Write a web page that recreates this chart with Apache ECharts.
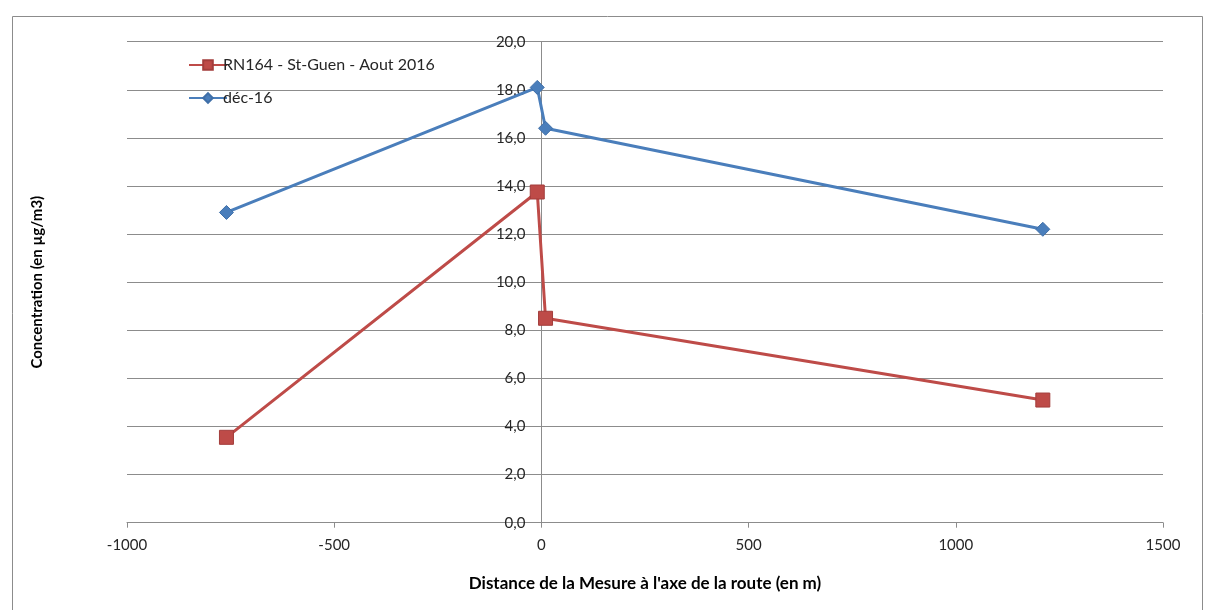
<!DOCTYPE html>
<html>
<head>
<meta charset="utf-8">
<script src="https://cdn.jsdelivr.net/npm/echarts@6/dist/echarts.min.js"></script>
<style>
html,body{margin:0;padding:0;background:#fff;}
#chart{width:1208px;height:610px;}
</style>
</head>
<body>
<div id="chart"></div>
<script>
const distances = [-760, -10, 10, 1210];
const aout2016 = [3.55, 13.75, 8.5, 5.1];
const dec2016 = [12.9, 18.1, 16.4, 12.2];
const seriesNames = ['RN164 - St-Guen - Aout 2016', 'déc-16'];
const xAxisTitle = "Distance de la Mesure à l'axe de la route (en m)";
const yAxisTitle = 'Concentration (en µg/m3)';

const FONT = 'Lato, "Open Sans", sans-serif';
const GRID_LEFT = 127, GRID_RIGHT = 45, W = 1208;
const X_MIN = -1000, X_MAX = 1500;
const plotW = W - GRID_LEFT - GRID_RIGHT;
const zeroOffset = plotW * (0 - X_MIN) / (X_MAX - X_MIN);

const chart = echarts.init(document.getElementById('chart'), null, {renderer: 'canvas'});
const pairs = (xs, ys) => xs.map((x, i) => [x, ys[i]]);

chart.setOption({
  animation: false,
  backgroundColor: '#ffffff',
  textStyle: {fontFamily: FONT},
  graphic: [{
    type: 'rect', left: 10, top: 14, silent: true,
    shape: {width: 1190, height: 620},
    style: {fill: 'none', stroke: '#8c8c8c', lineWidth: 1}
  }],
  grid: {left: GRID_LEFT, right: GRID_RIGHT, top: 41.7, bottom: 87.3, containLabel: false},
  legend: {
    left: 183, top: 52, orient: 'vertical', itemGap: 17,
    itemWidth: 38, itemHeight: 12,
    textStyle: {fontFamily: FONT, fontSize: 16, color: '#262626', padding: [0, 0, 0, -9]},
    data: seriesNames
  },
  xAxis: {
    type: 'value', min: X_MIN, max: X_MAX, interval: 500,
    name: xAxisTitle, nameLocation: 'middle', nameGap: 52,
    nameTextStyle: {fontFamily: FONT, fontSize: 17, fontWeight: 'bold', color: '#000'},
    axisLine: {onZero: false, lineStyle: {color: '#8c8c8c', width: 1}},
    axisTick: {show: true, length: 5, lineStyle: {color: '#8c8c8c'}},
    axisLabel: {fontFamily: FONT, fontSize: 15, color: '#262626', margin: 15,
      formatter: v => String(v)},
    splitLine: {show: false}
  },
  yAxis: {
    type: 'value', min: 0, max: 20, interval: 2,
    position: 'left', offset: -zeroOffset,
    name: yAxisTitle, nameLocation: 'middle', nameRotate: 90, nameGap: zeroOffset + 82,
    nameTextStyle: {fontFamily: FONT, fontSize: 15, fontWeight: 'bold', color: '#000'},
    axisLine: {show: true, onZero: false, lineStyle: {color: '#8c8c8c', width: 1}},
    axisTick: {show: true, length: 5, lineStyle: {color: '#8c8c8c'}},
    axisLabel: {fontFamily: FONT, fontSize: 15, color: '#262626', margin: 16,
      formatter: v => v.toFixed(1).replace('.', ',')},
    splitLine: {show: true, lineStyle: {color: '#8c8c8c', width: 1}}
  },
  series: [
    {
      name: seriesNames[0], type: 'line', data: pairs(distances, aout2016),
      symbol: 'rect', symbolSize: 14,
      lineStyle: {color: '#BE4B48', width: 3},
      itemStyle: {color: '#BE4B48', borderColor: '#A33D3B', borderWidth: 1}
    },
    {
      name: seriesNames[1], type: 'line', data: pairs(distances, dec2016),
      symbol: 'diamond', symbolSize: 14,
      lineStyle: {color: '#4A7EBB', width: 3},
      itemStyle: {color: '#4A7EBB', borderColor: '#3F6FA8', borderWidth: 1}
    }
  ]
});
</script>
</body>
</html>
